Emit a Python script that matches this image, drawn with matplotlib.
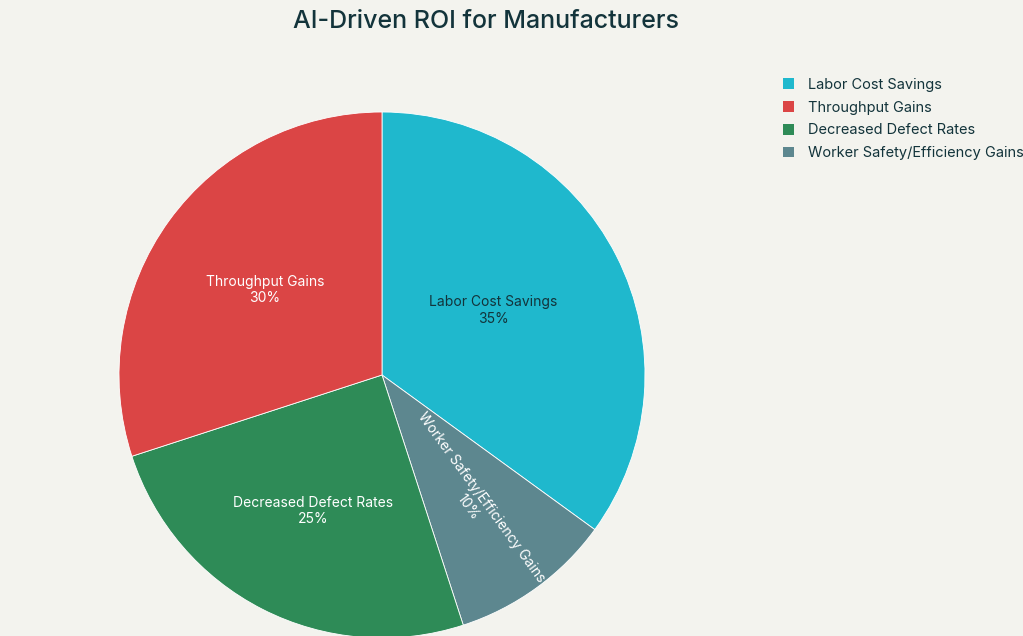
import numpy as np
import matplotlib
matplotlib.use("Agg")
import matplotlib.pyplot as plt
from matplotlib.patches import Patch

plt.rcParams['font.family'] = ['Inter', 'DejaVu Sans']

categories = ["Labor Cost Savings", "Throughput Gains", "Decreased Defect Rates",
              "Worker Safety/Efficiency Gains"]
values = [35, 30, 25, 10]
colors = ["#1FB8CD", "#DB4545", "#2E8B57", "#5D878F"]
label_colors = ["#13343B", "white", "white", "white"]

# drawing order (clockwise from 12 o'clock)
order = [0, 3, 2, 1]
label_dist = {0: 0.49, 1: 0.55, 2: 0.58, 3: 0.60}
label_angle_shift = {0: 3, 1: 0, 2: 0, 3: 0}

bg = "#F3F3EE"
W, H = 1023, 636
fig = plt.figure(figsize=(W / 100, H / 100), dpi=100, facecolor=bg)

cx, cy, r = 382, 375, 263
ax = fig.add_axes([(cx - r) / W, (H - cy - r) / H, 2 * r / W, 2 * r / H])
ax.set_facecolor(bg)

vals = [values[i] for i in order]
cols = [colors[i] for i in order]
wedges, _ = ax.pie(vals, colors=cols, startangle=90, counterclock=False,
                   radius=1, wedgeprops=dict(linewidth=0.6, edgecolor="white"))
ax.set_xlim(-1, 1)
ax.set_ylim(-1, 1)
ax.set_aspect('auto')
ax.axis('off')

for w, i in zip(wedges, order):
    mid_deg = (w.theta1 + w.theta2) / 2
    mid = np.deg2rad(mid_deg + label_angle_shift[i])
    d = label_dist[i]
    x, y = d * np.cos(mid), d * np.sin(mid)
    txt = f"{categories[i]}\n{values[i]}%"
    if i == 3:
        ax.text(x, y, txt, ha='center', va='center', rotation=mid_deg,
                rotation_mode='anchor', color=label_colors[i], fontsize=10,
                linespacing=1.2)
    else:
        ax.text(x, y, txt, ha='center', va='center', color=label_colors[i],
                fontsize=10, linespacing=1.2)

fig.text(486 / W, 1 - 22 / H, "AI-Driven ROI for Manufacturers", ha='center',
         va='center', fontsize=18, fontweight='medium', color="#13343B")

handles = [Patch(facecolor=c, edgecolor='none') for c in colors]
leg = fig.legend(handles, categories, loc='upper left',
                 bbox_to_anchor=(777 / W, 1 - 72 / H), frameon=False,
                 fontsize=10.5, handlelength=0.75, handleheight=0.75,
                 handletextpad=1.0, labelspacing=0.6, borderaxespad=0)
for t in leg.get_texts():
    t.set_color("#13343B")

fig.savefig("out.png", dpi=100, facecolor=bg)
